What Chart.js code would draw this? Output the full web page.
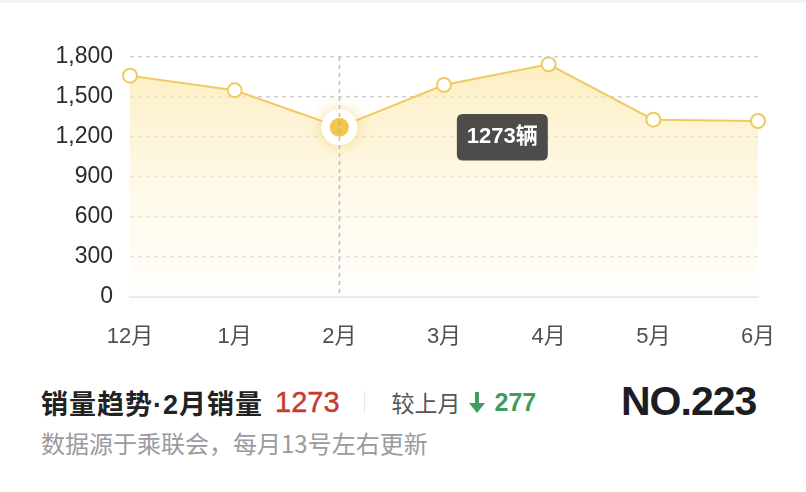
<!DOCTYPE html>
<html>
<head>
<meta charset="utf-8">
<script src="https://cdn.jsdelivr.net/npm/chart.js@4/dist/chart.umd.min.js"></script>
<style>
  html, body { margin: 0; padding: 0; background: #fff; }
  body { width: 806px; height: 492px; position: relative; overflow: hidden;
         font-family: "Liberation Sans", Arial, "Noto Sans CJK SC", sans-serif; }
  .topline { position: absolute; left: 0; top: 0; width: 806px; height: 3px; background: #f3f4f6; }
  .wrap { position: absolute; left: 0; top: 0; width: 806px; height: 360px; }
  .row { position: absolute; left: 41px; top: 382px; height: 40px; display: flex; align-items: center; white-space: nowrap; }
  .ttl { font-size: 27px; font-weight: bold; color: #222; font-family: "Liberation Sans", Arial, "Noto Sans CJK SC", sans-serif; letter-spacing: 1px; }
  .num { font-size: 29px; color: #c63a30; margin-left: 12px; font-family: "Liberation Sans", Arial, sans-serif; -webkit-text-stroke: 0.4px #c63a30; }
  .sep { width: 1px; height: 22px; background: #e6e6e6; margin: 0 27px 0 24px; }
  .cmp { font-size: 23px; color: #555; font-family: "Noto Sans CJK SC", sans-serif; }
  .arr { position: relative; display: inline-block; width: 16px; height: 22px; margin-left: 8px; }
  .arr .shaft { position: absolute; left: 6px; top: 1px; width: 4px; height: 13px; background: #3f9d63; }
  .arr .head { position: absolute; left: 0; top: 12px; width: 0; height: 0;
               border-left: 8px solid transparent; border-right: 8px solid transparent; border-top: 10px solid #3f9d63; }
  .chg { font-size: 25px; font-weight: bold; color: #3f9d63; margin-left: 10px; font-family: "Liberation Sans", Arial, sans-serif; }
  .rank { position: absolute; left: 621px; top: 378px; font-size: 41px; font-weight: bold; color: #1d1e23; letter-spacing: -1px;
          font-family: "Liberation Sans", Arial, sans-serif; }
  .sub { position: absolute; left: 41px; top: 425px; font-size: 24px; color: #9a9a9f; font-family: "Noto Sans CJK SC", sans-serif; }
</style>
</head>
<body>
<div class="topline"></div>
<div class="wrap"><canvas id="trend"></canvas></div>
<div class="row">
  <span class="ttl">销量趋势·2月销量</span>
  <span class="num">1273</span>
  <span class="sep"></span>
  <span class="cmp">较上月</span>
  <span class="arr"><span class="shaft"></span><span class="head"></span></span>
  <span class="chg">277</span>
</div>
<div class="rank">NO.223</div>
<div class="sub">数据源于乘联会，每月13号左右更新</div>
<script>
// monthly sales (辆)
const months = ["12月", "1月", "2月", "3月", "4月", "5月", "6月"];
const sales = [1660, 1550, 1273, 1590, 1745, 1330, 1320];
const yTicks = [0, 300, 600, 900, 1200, 1500, 1800];
const activeIdx = 2;
const unit = "辆";

const lineColor = "#f0ca60";
const fontStack = "'Liberation Sans', Arial, 'Noto Sans CJK SC', sans-serif";

// tooltip sits to the lower right of the active point
Chart.Tooltip.positioners.shifted = function (items) {
    if (!items.length) return false;
    const el = items[0].element;
    return { x: el.x + 163, y: el.y + 10 };
};

// highlighted point + crosshair
const focusPlugin = {
    id: "focus",
    afterDatasetsDraw(chart) {
        const meta = chart.getDatasetMeta(0);
        const pt = meta.data[activeIdx];
        if (!pt) return;
        const ctx = chart.ctx;
        const area = chart.chartArea;
        ctx.save();
        ctx.shadowColor = "rgba(240,196,80,0.6)";
        ctx.shadowBlur = 16;
        ctx.fillStyle = "#fff";
        ctx.beginPath();
        ctx.arc(pt.x, pt.y, 18, 0, Math.PI * 2);
        ctx.fill();
        ctx.shadowBlur = 0;
        ctx.shadowColor = "transparent";
        ctx.fillStyle = "#f2c550";
        ctx.beginPath();
        ctx.arc(pt.x, pt.y, 9.5, 0, Math.PI * 2);
        ctx.fill();
        // crosshair
        ctx.strokeStyle = "rgba(170,170,175,0.75)";
        ctx.lineWidth = 1.5;
        ctx.setLineDash([4, 4]);
        ctx.beginPath();
        ctx.moveTo(Math.round(pt.x) + 0.5, area.top);
        ctx.lineTo(Math.round(pt.x) + 0.5, area.bottom);
        ctx.stroke();
        ctx.restore();
    }
};

const ctx = document.getElementById("trend");
const chart = new Chart(ctx, {
    type: "line",
    data: {
        labels: months,
        datasets: [{
            data: sales,
            borderColor: lineColor,
            borderWidth: 2,
            tension: 0,
            fill: "origin",
            backgroundColor: function (c) {
                const a = c.chart.chartArea;
                if (!a) return "rgba(253,240,200,0.6)";
                const g = c.chart.ctx.createLinearGradient(0, a.top, 0, a.bottom);
                g.addColorStop(0, "rgba(252,232,170,0.75)");
                g.addColorStop(0.5, "rgba(253,243,212,0.6)");
                g.addColorStop(1, "rgba(255,252,244,0.4)");
                return g;
            },
            pointRadius: 7,
            pointBorderWidth: 2,
            pointBackgroundColor: "#fff",
            pointBorderColor: lineColor,
            pointHoverRadius: 7,
            pointHoverBorderWidth: 2,
            pointHoverBackgroundColor: "#fff",
            pointHoverBorderColor: lineColor
        }]
    },
    options: {
        responsive: true,
        maintainAspectRatio: false,
        animation: false,
        events: [],
        layout: { padding: { left: 0, right: 48, top: 57, bottom: 0 } },
        plugins: {
            legend: { display: false },
            tooltip: {
                enabled: true,
                position: "shifted",
                xAlign: "center",
                yAlign: "center",
                caretSize: 0,
                caretPadding: 0,
                displayColors: false,
                backgroundColor: "rgba(62,62,62,0.92)",
                cornerRadius: 6,
                padding: { left: 10, right: 10, top: 10, bottom: 10 },
                bodyColor: "#fff",
                bodyFont: { size: 22, weight: "bold", family: fontStack },
                callbacks: {
                    title: () => "",
                    label: (item) => item.raw + unit
                }
            }
        },
        scales: {
            x: {
                grid: { display: false, drawTicks: false },
                border: { display: true, color: "#e4e4ee", width: 2 },
                ticks: {
                    color: "#4f4f55",
                    padding: 27,
                    maxRotation: 0,
                    font: { size: 22, family: fontStack }
                },
                afterFit(s) { s.height = 63; }
            },
            y: {
                min: 0,
                max: 1800,
                afterBuildTicks(s) { s.ticks = yTicks.map(v => ({ value: v })); },
                grid: { color: "#cfcfd2", lineWidth: 1.5, drawTicks: false },
                border: { display: false, dash: [4, 4] },
                ticks: {
                    color: "#2b2b2b",
                    padding: 17,
                    font: { size: 23, family: "'Liberation Sans', Arial, sans-serif" },
                    callback: (v) => v.toLocaleString("en-US")
                },
                afterFit(s) { s.width = 130; }
            }
        }
    },
    plugins: [focusPlugin]
});

const act = [{ datasetIndex: 0, index: activeIdx }];
chart.setActiveElements(act);
chart.tooltip.setActiveElements(act, { x: 0, y: 0 });
chart.update();
</script>
</body>
</html>
